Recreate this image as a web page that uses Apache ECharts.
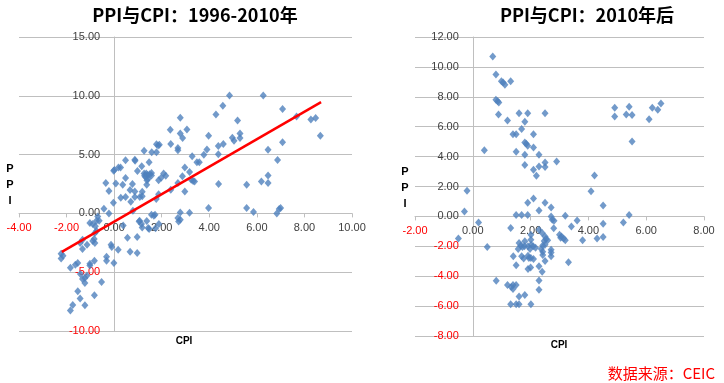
<!DOCTYPE html>
<html><head><meta charset="utf-8">
<script src="https://cdn.jsdelivr.net/npm/echarts@6/dist/echarts.min.js"></script>
<style>html,body{margin:0;padding:0;background:#fff}#c{width:724px;height:383px}</style>
</head><body><div id="c"></div>
<script>
// ---- Left chart: 1996-2010 ----
const leftTitle = 'PPI与CPI：1996-2010年';
const leftCPI = [4.85,6.27,4.57,7.08,4.28,7.67,8.27,8.47,5.19,2.78,2.36,3.06,2.78,2.88,3.97,5.29,5.29,5.04,4.97,8.67,7.08,4.59,4.38,2.38,2.68,2.68,3.90,6.47,4.38,3.28,3.77,6.87,3.48,3.58,2.97,3.17,2.87,6.47,3.32,3.38,3.24,2.68,4.39,5.57,6.19,6.47,2.38,2.97,5.57,3.97,5.86,6.94,7.00,6.84,2.78,3.17,2.68,2.78,2.71,
1.26,1.58,1.78,1.78,1.85,1.90,0.48,0.87,0.88,1.47,1.16,0.01,-0.02,0.18,0.27,0.98,1.26,1.35,1.28,1.40,1.32,1.43,1.38,1.57,1.49,1.57,0.48,-0.35,0.07,0.36,0.77,1.37,0.67,-0.22,1.18,0.87,1.87,1.87,1.98,2.08,2.17,0.28,0.48,0.70,0.87,1.08,1.18,1.77,-0.03,-0.43,0.79,-0.22,1.57,1.67,1.72,1.07,1.37,-0.63,-1.02,-0.90,-0.79,-0.69,-0.74,0.38,1.18,1.47,1.88,-0.74,-0.81,0.56,0.97,-1.33,-1.43,-0.84,-0.90,-0.81,-1.14,-0.13,-0.10,-1.33,0.17,0.67,0.97,-2.23,-2.15,-2.23,-0.32,-0.32,-0.01,-0.83,-1.02,-1.02,-1.53,-1.63,-1.84,-1.42,-1.14,-1.23,-1.33,-1.23,-0.53,-1.53,-1.43,-0.83,-1.74,-1.23,-1.84,1.15,1.43,1.74,1.05];
const leftPPI = [10.03,10.03,9.16,8.87,8.42,8.25,7.99,8.11,7.91,8.14,7.11,7.14,6.80,6.41,6.60,6.80,6.41,6.18,6.43,6.60,6.04,5.90,5.73,5.90,5.56,5.36,5.44,5.41,5.02,4.85,4.99,4.54,4.34,4.34,3.91,3.51,3.15,3.23,2.75,2.72,2.86,2.58,2.49,2.44,2.72,2.58,2.01,1.87,0.45,0.45,0.11,0.37,0.45,0.00,0.08,0.06,-0.40,-0.54,-0.68,
5.33,5.19,5.19,5.87,5.78,5.84,4.51,4.56,4.48,4.34,4.00,3.68,3.62,3.91,3.91,3.60,3.40,3.40,3.20,3.26,3.09,2.95,2.81,3.43,3.32,3.23,3.00,2.58,2.55,2.44,2.49,2.44,1.98,1.90,1.84,1.87,1.62,2.81,3.03,3.40,3.20,1.33,1.39,0.99,1.39,1.39,1.45,1.22,0.91,0.40,0.23,0.00,-0.11,-0.20,-0.11,-0.62,-0.65,-0.62,-0.82,-0.90,-1.10,-0.26,-0.62,-1.02,-1.19,-1.33,-0.91,-1.50,-1.67,-2.07,-2.01,-2.24,-2.52,-2.18,-2.35,-2.52,-2.66,-2.66,-2.86,-3.03,-3.09,-3.26,-3.37,-3.43,-3.60,-3.83,-3.68,-4.02,-4.22,-4.02,-4.28,-4.42,-4.22,-4.36,-4.62,-5.16,-5.27,-5.50,-5.58,-5.92,-5.84,-6.63,-7.23,-6.97,-7.79,-7.82,-8.25,-0.90,-1.24,-1.27,-0.68];
const trendCPI = [-2.2, 8.7];
const trendPPI = [-3.27, 9.46];

// ---- Right chart: after 2010 ----
const rightTitle = 'PPI与CPI：2010年后';
const rightCPI = [0.69,0.80,0.99,1.05,1.11,1.31,0.80,0.86,0.90,0.89,1.20,1.60,1.90,2.50,1.80,1.69,1.39,1.50,2.10,1.80,1.85,1.90,2.10,0.40,1.50,1.80,2.29,2.90,2.50,2.50,2.29,1.80,2.10,2.20,4.21,4.09,-0.20,2.10,1.90,2.50,2.71,4.51,-0.29,2.29,1.50,1.69,1.90,2.71,3.20,5.41,0.20,2.75,2.81,3.61,5.21,4.51,1.31,2.80,3.41,2.29,2.40,-0.50,4.30,4.51,3.80,3.00,3.07,3.14,3.20,3.04,2.50,2.53,2.59,2.47,2.01,2.01,1.60,1.80,1.91,1.72,1.66,0.50,2.02,2.09,2.17,1.98,1.57,1.79,2.42,2.50,2.37,2.42,2.71,2.71,2.71,2.42,1.40,1.69,1.76,1.91,1.94,2.10,2.01,2.50,3.31,1.50,2.29,1.91,2.00,2.40,2.29,0.81,1.20,1.39,1.50,1.33,1.39,2.29,1.60,1.80,1.31,1.50,1.60,2.01,4.91,4.91,5.41,5.31,5.51,5.51,6.21,6.40,6.51,6.10];
const rightPPI = [10.69,9.49,9.04,8.95,8.80,9.04,7.80,7.71,7.62,6.82,6.41,6.90,6.90,6.90,6.33,5.84,5.50,5.50,5.50,4.94,4.86,4.72,4.61,4.43,4.32,4.12,4.12,3.67,3.61,3.30,3.34,3.43,3.12,2.72,2.74,1.69,1.71,1.20,0.91,0.91,0.60,0.73,0.33,0.40,0.09,0.09,0.09,0.00,0.04,0.09,-0.40,-0.22,-0.29,-0.27,-0.40,-0.49,-0.78,-0.80,-0.67,-0.89,-1.11,-1.47,-1.47,-1.38,-1.60,-1.22,-1.34,-1.47,-1.60,-1.42,-1.34,-1.51,-1.60,-1.65,-1.22,-1.56,-1.78,-1.67,-2.00,-2.05,-1.96,-2.05,-1.89,-2.00,-2.09,-2.18,-2.18,-1.99,-1.94,-1.89,-2.18,-2.36,-2.23,-2.41,-2.67,-2.58,-2.67,-2.67,-2.81,-2.63,-2.78,-2.85,-2.78,-2.98,-3.07,-3.27,-3.34,-3.52,-3.41,-3.70,-4.28,-4.30,-4.59,-4.59,-4.59,-4.72,-4.85,-4.90,-5.35,-5.26,-5.88,-5.88,-5.88,-5.88,7.26,6.68,7.33,6.82,6.79,5.01,7.26,7.13,7.55,6.50];

const xName = 'CPI';
const yNameLetters = ['P', 'P', 'I'];
const sourceText = '数据来源：CEIC';

const zip = (a, b) => a.map((v, i) => [v, b[i]]);
const LBL = '"Liberation Sans", Arial, sans-serif';
const CJK = '"Noto Sans CJK SC", sans-serif';
const GRIDC = '#BFBFBF';
const DOT = '#4F81BD';

// grid boxes (pixels)
const G = [
  { left: 19, top: 37, width: 333, height: 294 },
  { left: 415, top: 37, width: 289, height: 299 }
];
const XR = [[-4, 10], [-2, 8]];
const YR = [[-10, 15], [-8, 12]];
// offset that moves an axis from the grid edge to the other axis's zero
function xZeroOffset(i) {
  const [a, b] = YR[i];
  return -(G[i].height * (0 - a) / (b - a));
}
function yZeroOffset(i) {
  const [a, b] = XR[i];
  return -(G[i].width * (0 - a) / (b - a));
}

function labelCfg(margin) {
  return {
    margin: margin,
    formatter: v => (v < 0 ? '{r|' : '{k|') + v.toFixed(2) + '}',
    rich: {
      r: { color: '#FF0000', fontSize: 11, fontFamily: LBL },
      k: { color: '#404040', fontSize: 11, fontFamily: LBL }
    }
  };
}
function xAxisCfg(i, interval) {
  return {
    type: 'value', gridIndex: i, min: XR[i][0], max: XR[i][1], interval: interval,
    position: 'bottom', offset: xZeroOffset(i),
    axisLine: { onZero: false, lineStyle: { color: GRIDC, width: 1 } },
    axisTick: { show: true, length: 4, lineStyle: { color: GRIDC } },
    splitLine: { show: false },
    axisLabel: labelCfg(9)
  };
}
function yAxisCfg(i, interval) {
  return {
    type: 'value', gridIndex: i, min: YR[i][0], max: YR[i][1], interval: interval,
    position: 'left', offset: yZeroOffset(i),
    axisLine: { onZero: false, lineStyle: { color: GRIDC, width: 1 } },
    axisTick: { show: true, length: 4, lineStyle: { color: GRIDC } },
    splitLine: { show: true, lineStyle: { color: GRIDC, width: 1 } },
    axisLabel: labelCfg(14)
  };
}

function nameTexts() {
  const els = [];
  const xPos = [[184, 341], [559, 345]];
  const yPos = [[10, 169], [405, 172]];
  xPos.forEach(p => els.push({ type: 'text', x: p[0], y: p[1],
    style: { text: xName, font: 'bold 10px ' + LBL, fill: '#000', align: 'center', verticalAlign: 'middle' } }));
  yPos.forEach(p => yNameLetters.forEach((ch, k) => els.push({ type: 'text', x: p[0], y: p[1] + k * 16,
    style: { text: ch, font: 'bold 11px ' + LBL, fill: '#000', align: 'center', verticalAlign: 'middle' } })));
  return els;
}

const chart = echarts.init(document.getElementById('c'), null, { renderer: 'canvas' });
chart.setOption({
  animation: false,
  backgroundColor: '#fff',
  title: [
    { text: leftTitle, left: 190, top: 1, textAlign: 'center',
      textStyle: { fontFamily: CJK, fontWeight: 'bold', fontSize: 18, color: '#000' } },
    { text: rightTitle, left: 582, top: 1, textAlign: 'center',
      textStyle: { fontFamily: CJK, fontWeight: 'bold', fontSize: 18, color: '#000' } },
    { text: sourceText, right: 4, top: 361,
      textStyle: { fontFamily: CJK, fontWeight: 'normal', fontSize: 15, color: '#FF0000' } }
  ],
  grid: G.map(g => Object.assign({ containLabel: false, outerBoundsMode: 'none' }, g)),
  xAxis: [xAxisCfg(0, 2), xAxisCfg(1, 2)],
  yAxis: [yAxisCfg(0, 5), yAxisCfg(1, 2)],
  graphic: nameTexts(),
  series: [
    { type: 'scatter', xAxisIndex: 0, yAxisIndex: 0, data: zip(leftCPI, leftPPI),
      symbol: 'diamond', symbolSize: [7, 8], itemStyle: { color: DOT }, z: 2 },
    { type: 'line', xAxisIndex: 0, yAxisIndex: 0, data: zip(trendCPI, trendPPI),
      symbol: 'none', lineStyle: { color: '#FF0000', width: 2.5 }, z: 3 },
    { type: 'scatter', xAxisIndex: 1, yAxisIndex: 1, data: zip(rightCPI, rightPPI),
      symbol: 'diamond', symbolSize: [7, 8], itemStyle: { color: DOT }, z: 2 }
  ]
});
</script></body></html>
